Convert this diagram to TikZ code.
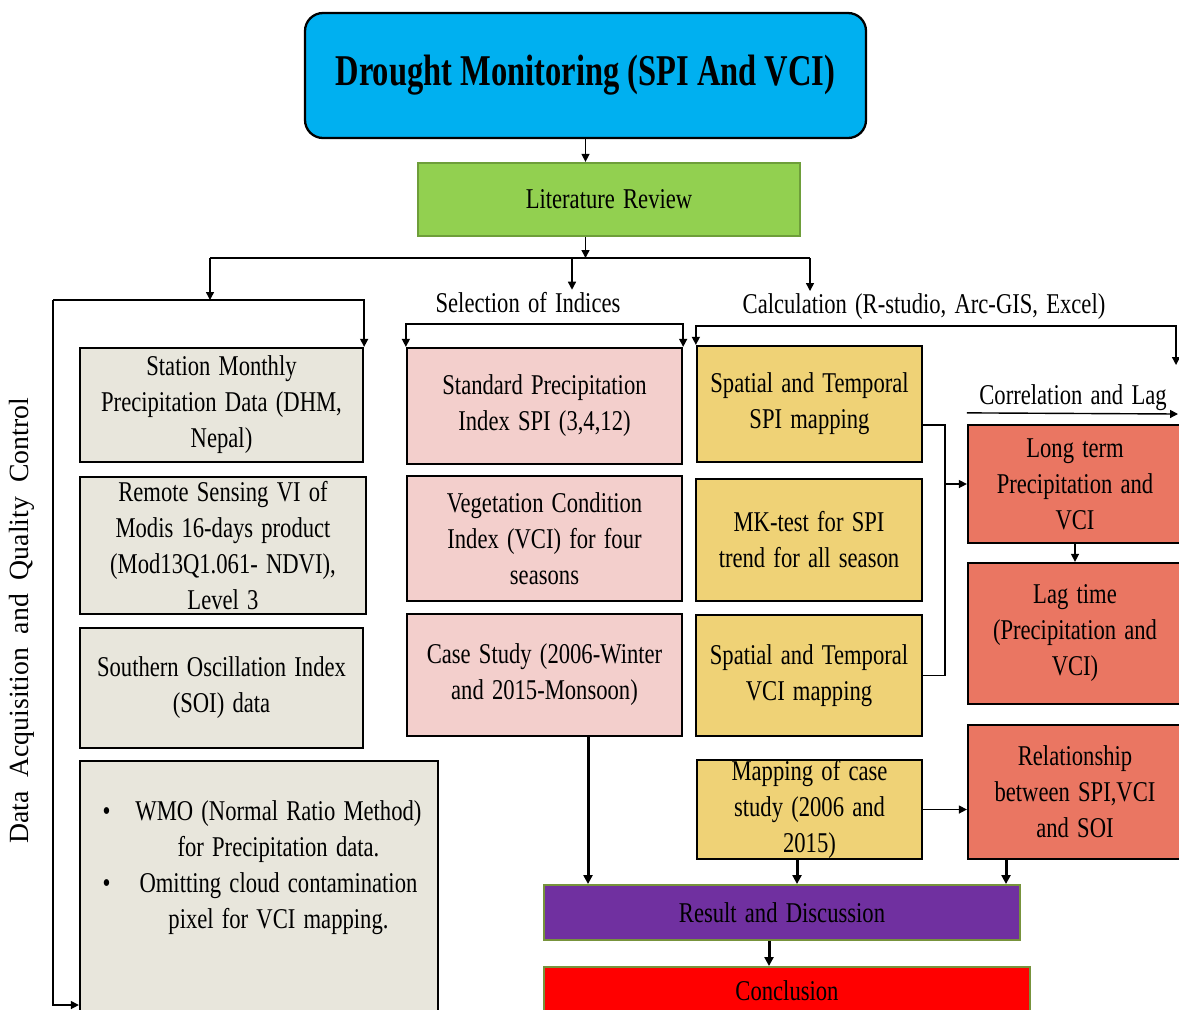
\documentclass[tikz,border=0pt]{standalone}
\usepackage{fontspec}
\setmainfont{Liberation Serif}[FakeStretch=0.79, WordSpace=1.45]
\newfontfamily\titlefont{Liberation Serif}[FakeStretch=0.74]
\newfontfamily\vertfont{Liberation Serif}[WordSpace=2]
\usetikzlibrary{positioning,arrows.meta,calc}
\definecolor{skyx}{HTML}{00B0F0}
\definecolor{limex}{HTML}{92D050}
\definecolor{limeline}{HTML}{6E9E3A}
\definecolor{datax}{HTML}{E8E6DC}
\definecolor{idxx}{HTML}{F3CFCC}
\definecolor{calcx}{HTML}{EFD276}
\definecolor{corrx}{HTML}{EA7662}
\definecolor{purplex}{HTML}{7030A0}
\definecolor{olivex}{HTML}{77933C}
\newcommand{\boxfont}{\fontsize{16.3}{20.5}\selectfont}

\begin{document}
\begin{tikzpicture}[x=0.02cm, y=-0.02cm,
  wh/.style 2 args={minimum width=#1*0.02cm, minimum height=#2*0.02cm},
  box/.style={draw=black, line width=1.3pt, align=center, inner xsep=2pt, inner ysep=0pt, font=\boxfont},
  databox/.style={box, fill=datax},
  idxbox/.style={box, fill=idxx},
  calcbox/.style={box, fill=calcx},
  corrbox/.style={box, fill=corrx},
  endbox/.style={box, draw=olivex, line width=1.1pt, text=black},
  lbl/.style={font=\boxfont, inner sep=1pt, anchor=base},
  arr/.style={-{Triangle[length=1.6mm,width=1.6mm]}, line width=0.8pt},
  twin/.style={{Triangle[length=1.6mm,width=1.6mm]}-{Triangle[length=1.6mm,width=1.6mm]}, line width=0.8pt},
  arrb/.style={-{Triangle[length=1.8mm,width=1.8mm]}, line width=1.7pt}]
  \clip (0,0) rectangle (1179,1009);

  \node[box, fill=skyx, rounded corners=0.36cm, wh={561}{125}, font=\titlefont\fontsize{25}{29}\selectfont\bfseries] (title) at (585.5,75.5) {Drought Monitoring (SPI And VCI)};
  \node[box, fill=limex, draw=limeline, wh={382}{73}] (lit) at (609,199.5) {Literature Review};

  \node[lbl] (selLbl) at (528,312) {Selection of Indices};
  \node[lbl] (calcLbl) at (924,313) {Calculation (R-studio, Arc-GIS, Excel)};
  \node[lbl] (corrLbl) at (1073,404) {Correlation and Lag};
  \node[font=\vertfont\fontsize{15.8}{19}\selectfont, rotate=90] (dataLbl) at (22,621) {Data Acquisition and Quality Control};

  % data acquisition
  \node[databox, wh={283}{114}] (station) at (221.5,405) {Station Monthly\\Precipitation Data (DHM,\\Nepal)};
  \node[databox, wh={286}{137}] (remote) at (223,545.5) {Remote Sensing VI of\\Modis 16-days product\\(Mod13Q1.061- NDVI),\\Level 3};
  \node[databox, wh={283}{120}] (soi) at (221.5,688) {Southern Oscillation Index\\(SOI) data};
  \node[databox, wh={358}{289}] (wmo) at (259,905.5) {};
  \node[font=\boxfont, inner sep=0pt] (wmoText) at (262,867) {\begin{tabular}{@{}l@{\hspace{0.5cm}}c@{}}
    \textbullet & WMO (Normal Ratio Method)\\
                & for Precipitation data.\\
    \textbullet & Omitting cloud contamination\\
                & pixel for VCI mapping.
  \end{tabular}};

  % indices
  \node[idxbox, wh={275}{116}] (spi) at (544.5,406) {Standard Precipitation\\Index SPI (3,4,12)};
  \node[idxbox, wh={275}{125}] (vci) at (544.5,538.5) {Vegetation Condition\\Index (VCI) for four\\seasons};
  \node[idxbox, wh={275}{122}] (case) at (544.5,675) {Case Study (2006-Winter\\and 2015-Monsoon)};

  % calculation
  \node[calcbox, wh={225}{116}] (spiMap) at (809.5,404) {Spatial and Temporal\\SPI mapping};
  \node[calcbox, wh={226}{122}] (mk) at (809,540) {MK-test for SPI\\trend for all season};
  \node[calcbox, wh={226}{121}] (vciMap) at (809,675.5) {Spatial and Temporal\\VCI mapping};
  \node[calcbox, wh={225}{99}] (caseMap) at (809.5,809.5) {Mapping of case\\study (2006 and\\2015)};

  % correlation
  \node[corrbox, wh={214}{118}] (long) at (1075,484) {Long term\\Precipitation and\\VCI};
  \node[corrbox, wh={214}{141}] (lag) at (1075,633.5) {Lag time\\(Precipitation and\\VCI)};
  \node[corrbox, wh={214}{134}] (rel) at (1075,792) {Relationship\\between SPI,VCI\\and SOI};

  \node[endbox, fill=purplex, wh={476}{55}] (result) at (782,912.5) {Result and Discussion};
  \node[endbox, fill=red, wh={486}{48}] (concl) at (787,991) {Conclusion};

  \coordinate (busL) at (210,258); \coordinate (busR) at (810,258);
  \coordinate (lTop) at (53,300); \coordinate (lBot) at (53,1005);
  \coordinate (corrTop) at (1176,365); \coordinate (corrEnd) at (1178,414);
  \coordinate (jn) at (945,484);

  \draw[arr] (title.south) -- (title.south |- lit.north);
  \draw[arr] (title.south |- lit.south) -- (title.south |- busL);
  \draw[line width=0.8pt] (busL) -- (busR);
  \draw[arr] (busL) -- (busL |- lTop);
  \draw[arr] (572,0 |- busL) -- (572,0 |- selLbl.north);
  \draw[arr] (busR) -- (busR |- calcLbl.north);

  \draw[arr] (lTop) -| (station.north east);
  \draw[arr] (lTop) -- (lBot) -- (wmo.west |- lBot);
  \draw[twin] (spi.north west) -- ++(0,-23) -| (spi.north east);
  \draw[twin] (spiMap.north west) -- ++(0,-19) -| (corrTop);
  \draw[arr] (long.north west) ++(0,-11) -- (corrEnd);

  \draw[line width=0.8pt] ($(spiMap.east)+(0,21)$) -| (jn) |- (vciMap.east);
  \draw[arr] (jn) -- (long.west);
  \draw[arr] (caseMap.east) -- (caseMap.east -| rel.west);
  \draw[arr] (long.south) -- (lag.north);

  \draw[arrb] (588,0 |- case.south) -- (588,0 |- result.north);
  \draw[arrb] (797,0 |- caseMap.south) -- (797,0 |- result.north);
  \draw[arrb] (1006,0 |- rel.south) -- (1006,0 |- result.north);
  \draw[arrb] (769,0 |- result.south) -- (769,0 |- concl.north);
\end{tikzpicture}
\end{document}
